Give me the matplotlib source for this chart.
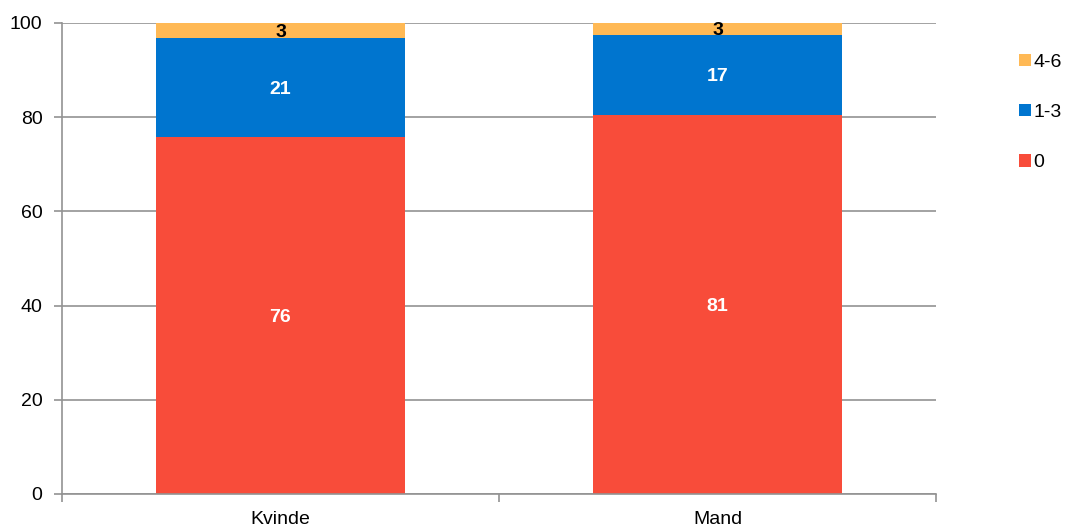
import numpy as np
import matplotlib
matplotlib.use('Agg')
import matplotlib.pyplot as plt
from matplotlib.patches import Patch

plt.rcParams['font.family'] = ['Liberation Sans', 'DejaVu Sans']

# ── Data ──────────────────────────────────────────────────────────────────────
categories = ['Kvinde', 'Mand']
series     = ['0', '1-3', '4-6']
vals_0     = [75.8, 80.5]
vals_13    = [21.0, 17.0]
vals_46    = [3.2, 2.5]
labels_0   = ['76', '81']
labels_13  = ['21', '17']
labels_46  = ['3', '3']

RED    = '#F84C3A'
BLUE   = '#0075CF'
ORANGE = '#FFB955'
GRID   = '#929292'
FS     = 14

fig = plt.figure(figsize=(10.67, 5.27), dpi=100)
ax = fig.add_axes([62 / 1067, 33 / 527, 874 / 1067, 471 / 527])

x = np.arange(len(categories)) + 0.5
w = 0.572
bottom = np.zeros(len(categories))
stack = [(vals_0, labels_0, RED, 'white'),
         (vals_13, labels_13, BLUE, 'white'),
         (vals_46, labels_46, ORANGE, 'black')]
for vals, labs, col, tcol in stack:
    vals = np.array(vals)
    ax.bar(x, vals, w, bottom=bottom, color=col, zorder=2)
    for xi, b, v, t in zip(x, bottom, vals, labs):
        ax.text(xi, b + v / 2, t, ha='center', va='center_baseline', color=tcol,
                fontsize=FS, fontweight='bold', zorder=3)
    bottom = bottom + vals

ax.set_xlim(0, len(categories))
ax.set_ylim(0, 100)
ax.set_yticks(range(0, 101, 20))
ax.yaxis.grid(True, color=GRID, lw=1.2, zorder=0)
ax.set_axisbelow(True)

ax.set_xticks(range(len(categories) + 1))
ax.set_xticklabels([])
ax.set_xticks(x, minor=True)
ax.set_xticklabels(categories, minor=True)
ax.tick_params(axis='x', which='minor', length=0, pad=12, labelsize=FS)
ax.tick_params(axis='x', which='major', length=6, color=GRID, direction='out',
               width=1.2)
ax.tick_params(axis='y', length=6, color=GRID, width=1.2, labelsize=FS, pad=8)

for s in ('top', 'right'):
    ax.spines[s].set_visible(False)
for s in ('left', 'bottom'):
    ax.spines[s].set_color(GRID)
    ax.spines[s].set_linewidth(1.2)

handles = [Patch(facecolor=ORANGE, label='4-6'),
           Patch(facecolor=BLUE, label='1-3'),
           Patch(facecolor=RED, label='0')]
fig.legend(handles=handles, loc='upper left', bbox_to_anchor=(1019 / 1067, 1 - 54 / 527),
           frameon=False, fontsize=FS, handlelength=0.6, handleheight=0.6,
           handletextpad=0.15, labelspacing=1.7, borderaxespad=0, borderpad=0)

fig.savefig('out.png', dpi=100)
